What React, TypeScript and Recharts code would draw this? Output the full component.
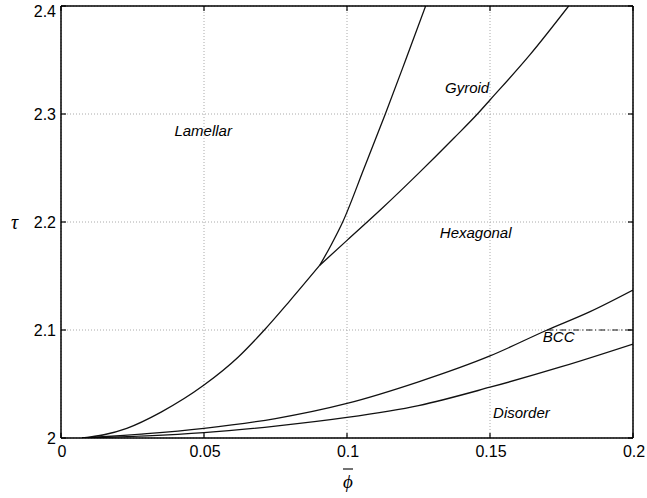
import React from 'react';
import { LineChart, Line, XAxis, YAxis, CartesianGrid, ReferenceDot } from 'recharts';

// tick values and their printed labels
const xTicks = [0, 0.05, 0.1, 0.15, 0.2];
const xTickLabels = ['0', '0.05', '0.1', '0.15', '0.2'];
const yTicks = [2, 2.1, 2.2, 2.3, 2.4];
const yTickLabels = ['2', '2.1', '2.2', '2.3', '2.4'];

// Lamellar / hexagonal boundary, up to the triple point
const lamHexPhi = [0.0074, 0.015, 0.023, 0.035, 0.05, 0.062, 0.0711, 0.08, 0.0905];
const lamHexTau = [2.0, 2.003, 2.009, 2.024, 2.049, 2.075, 2.1, 2.127, 2.16];

// Lamellar / gyroid boundary, above the triple point
const lamGyrPhi = [0.0905, 0.0945, 0.0985, 0.106, 0.1134, 0.1205, 0.1275];
const lamGyrTau = [2.16, 2.179, 2.2, 2.25, 2.3, 2.35, 2.4];

// Gyroid / hexagonal boundary
const gyrPhi = [0.0905, 0.1, 0.112, 0.125, 0.1375, 0.1456, 0.15, 0.164, 0.1775];
const gyrTau = [2.16, 2.183, 2.212, 2.245, 2.278, 2.3, 2.313, 2.355, 2.4];

// Hexagonal / BCC boundary
const hexPhi = [0.0074, 0.03, 0.05, 0.075, 0.1, 0.125, 0.15, 0.17, 0.185, 0.2];
const hexTau = [2.0, 2.004, 2.009, 2.018, 2.032, 2.052, 2.076, 2.1, 2.117, 2.137];

// BCC / disorder boundary
const bccPhi = [0.0074, 0.03, 0.05, 0.075, 0.1, 0.125, 0.15, 0.175, 0.2];
const bccTau = [2.0, 2.002, 2.005, 2.011, 2.019, 2.03, 2.047, 2.066, 2.087];

// short dash-dot segment right of the BCC label
const tailPhi = [0.17, 0.2];
const tailTau = [2.1, 2.1];

// phase names and where they sit (phi, tau)
const phaseNames = ['Lamellar', 'Gyroid', 'Hexagonal', 'BCC', 'Disorder'];
const phasePhi = [0.0497, 0.142, 0.145, 0.174, 0.161];
const phaseTau = [2.285, 2.324, 2.19, 2.094, 2.023];

const pts = (xs: number[], ys: number[]) => xs.map((x, i) => ({ x, y: ys[i] }));

const FONT = "'Liberation Sans', Arial, Helvetica, sans-serif";
const SERIF = "'Liberation Serif', 'DejaVu Serif', serif";

const BottomTick = ({ x, y, index }: any) => (
  <g>
    <line x1={x} y1={y} x2={x} y2={y - 5} stroke="#000" strokeWidth={1.2} />
    <text x={x + 1} y={y + 19} textAnchor="middle" fontSize={16} fill="#000">{xTickLabels[index]}</text>
  </g>
);
const TopTick = ({ x, y }: any) => (
  <line x1={x} y1={y} x2={x} y2={y + 5} stroke="#000" strokeWidth={1.2} />
);
const LeftTick = ({ x, y, index }: any) => (
  <g>
    <line x1={x} y1={y} x2={x + 5} y2={y} stroke="#000" strokeWidth={1.2} />
    {/* top label is pushed down so it stays on the page, as in the original */}
    <text x={x - 5} y={Math.max(y + 6, 17)} textAnchor="end" fontSize={16} fill="#000">{yTickLabels[index]}</text>
  </g>
);
const RightTick = ({ x, y }: any) => (
  <line x1={x} y1={y} x2={x - 5} y2={y} stroke="#000" strokeWidth={1.2} />
);

const PhiLabel = ({ viewBox }: any) => {
  const cx = viewBox.x + viewBox.width / 2;
  const top = viewBox.y;
  return (
    <g>
      <line x1={cx - 4} y1={top + 31} x2={cx + 6} y2={top + 31} stroke="#000" strokeWidth={1.1} />
      <text x={cx + 1} y={top + 50} textAnchor="middle" fontSize={19} fontStyle="italic"
        fontFamily={SERIF} fill="#000">ϕ</text>
    </g>
  );
};

const CURVE = { stroke: '#111', strokeWidth: 1.3, dot: false, isAnimationActive: false, type: 'monotone' as const };
const AXIS_LINE = { stroke: '#000', strokeWidth: 1.5 };

export default function App() {
  return (
    <div style={{ position: 'absolute', left: 0, top: 0, width: 647, height: 498, background: '#fff' }}>
      <LineChart width={647} height={498} margin={{ top: 0, right: 0, bottom: 0, left: 0 }}
        style={{ fontFamily: FONT }}>
        <CartesianGrid stroke="#aaa" strokeDasharray="1 2" strokeWidth={1} />
        <XAxis type="number" dataKey="x" domain={[0, 0.2]} ticks={xTicks} interval={0}
          allowDataOverflow height={60} tickSize={0} tickMargin={0} tick={<BottomTick />}
          axisLine={AXIS_LINE} label={<PhiLabel />} />
        <XAxis xAxisId="top" orientation="top" type="number" dataKey="x" domain={[0, 0.2]}
          ticks={xTicks} interval={0} allowDataOverflow height={6} tickSize={0} tickMargin={0}
          tick={<TopTick />} axisLine={AXIS_LINE} />
        <YAxis type="number" domain={[2, 2.4]} ticks={yTicks} interval={0} allowDataOverflow
          width={61} tickSize={0} tickMargin={0} tick={<LeftTick />} axisLine={AXIS_LINE}
          label={{ value: 'τ', position: 'insideLeft', offset: 11, fontSize: 20, fontStyle: 'italic',
            fontFamily: SERIF, fill: '#000' }} />
        <YAxis yAxisId="right" orientation="right" type="number" domain={[2, 2.4]} ticks={yTicks}
          interval={0} allowDataOverflow width={14} tickSize={0} tickMargin={0} tick={<RightTick />}
          axisLine={AXIS_LINE} />

        <Line data={pts(lamHexPhi, lamHexTau)} dataKey="y" {...CURVE} />
        <Line data={pts(lamGyrPhi, lamGyrTau)} dataKey="y" {...CURVE} />
        <Line data={pts(gyrPhi, gyrTau)} dataKey="y" {...CURVE} />
        <Line data={pts(hexPhi, hexTau)} dataKey="y" {...CURVE} />
        <Line data={pts(bccPhi, bccTau)} dataKey="y" {...CURVE} />
        <Line data={pts(tailPhi, tailTau)} dataKey="y" {...CURVE} strokeWidth={1}
          strokeDasharray="6 3 1 3" type="linear" />

        {phaseNames.map((name, i) => (
          <ReferenceDot key={name} x={phasePhi[i]} y={phaseTau[i]} r={0} stroke="none" fill="none"
            label={{ value: name, position: 'center', fontSize: 15, fontStyle: 'italic', fill: '#000' }} />
        ))}
      </LineChart>
    </div>
  );
}
